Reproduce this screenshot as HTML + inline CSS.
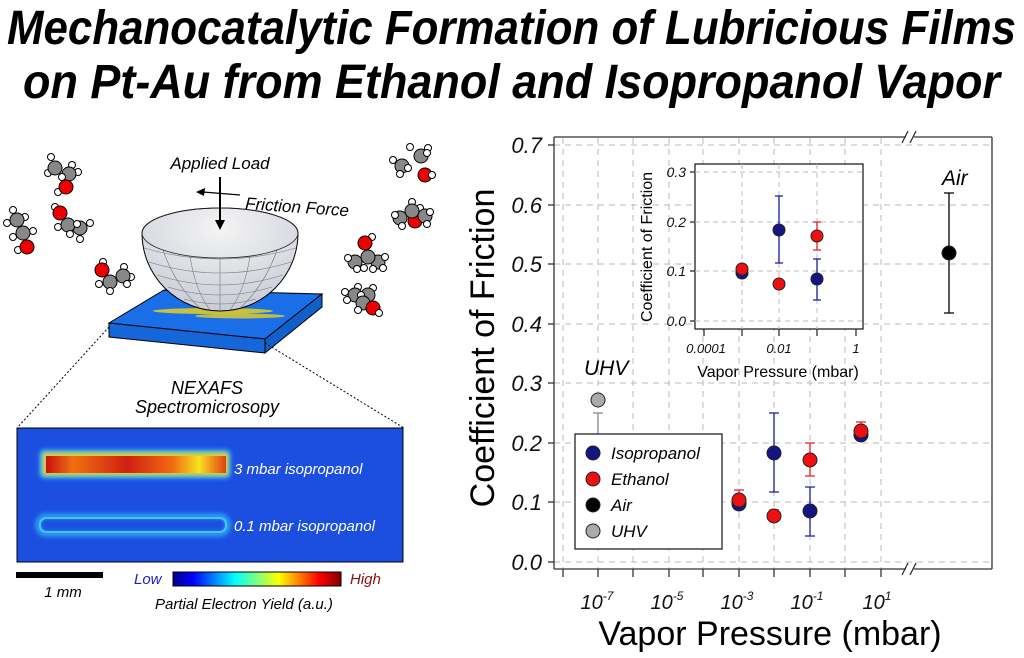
<!DOCTYPE html>
<html><head><meta charset="utf-8"><style>
html,body{margin:0;padding:0;background:#fff;}
svg{display:block;font-family:"Liberation Sans",sans-serif;}
</style></head><body>
<svg width="1024" height="658" viewBox="0 0 1024 658" xmlns="http://www.w3.org/2000/svg">
<defs>
<linearGradient id="jet" x1="0" x2="1" y1="0" y2="0">
<stop offset="0" stop-color="#00008f"/><stop offset="0.12" stop-color="#0000ff"/><stop offset="0.37" stop-color="#00ffff"/><stop offset="0.5" stop-color="#7fff7f"/><stop offset="0.63" stop-color="#ffff00"/><stop offset="0.87" stop-color="#ff0000"/><stop offset="1" stop-color="#800000"/>
</linearGradient>
<radialGradient id="bowl" cx="0.5" cy="0.2" r="0.8">
<stop offset="0" stop-color="#f4f4f4"/><stop offset="1" stop-color="#c8ccd6"/>
</radialGradient>
<linearGradient id="strip" x1="0" x2="1">
<stop offset="0" stop-color="#c81010"/><stop offset="0.15" stop-color="#f07010"/><stop offset="0.45" stop-color="#d02010"/><stop offset="0.7" stop-color="#f06a10"/><stop offset="0.85" stop-color="#f8e020"/><stop offset="1" stop-color="#e04010"/>
</linearGradient>
<filter id="blur" x="-20%" y="-50%" width="140%" height="200%"><feGaussianBlur stdDeviation="2.5"/></filter>
</defs>

<g font-weight="bold" font-style="italic" font-size="48" fill="#000">
<text x="7" y="44" textLength="1009" lengthAdjust="spacingAndGlyphs">Mechanocatalytic Formation of Lubricious Films</text>
<text x="23" y="98" textLength="977" lengthAdjust="spacingAndGlyphs">on Pt-Au from Ethanol and Isopropanol Vapor</text>
</g>

<g stroke="#000" stroke-width="1">
<circle cx="51" cy="157" r="3.5" fill="#fff"/><circle cx="48" cy="173" r="3.5" fill="#fff"/><circle cx="72" cy="165" r="3.5" fill="#fff"/><circle cx="78" cy="172" r="3.5" fill="#fff"/>
<circle cx="55" cy="168" r="7" fill="#888"/><circle cx="69" cy="174" r="7" fill="#888"/><circle cx="62" cy="177" r="3.5" fill="#fff"/>
<circle cx="58" cy="192" r="3.5" fill="#fff"/><circle cx="66" cy="187" r="7" fill="#e00"/>
<circle cx="13" cy="210" r="3.5" fill="#fff"/><circle cx="25" cy="217" r="3.5" fill="#fff"/><circle cx="7" cy="223" r="3.5" fill="#fff"/>
<circle cx="17" cy="220" r="7" fill="#888"/><circle cx="13" cy="237" r="3.5" fill="#fff"/><circle cx="33" cy="231" r="3.5" fill="#fff"/>
<circle cx="23" cy="233" r="7" fill="#888"/><circle cx="18" cy="250" r="3.5" fill="#fff"/><circle cx="27" cy="247" r="7" fill="#e00"/>
<circle cx="55" cy="207" r="3.5" fill="#fff"/><circle cx="90" cy="223" r="3.5" fill="#fff"/><circle cx="80" cy="239" r="3.5" fill="#fff"/>
<circle cx="60" cy="213" r="7" fill="#e00"/><circle cx="80" cy="228" r="7" fill="#888"/><circle cx="58" cy="227" r="3.5" fill="#fff"/>
<circle cx="68" cy="225" r="7" fill="#888"/><circle cx="77" cy="224" r="3.5" fill="#fff"/><circle cx="70" cy="234" r="3.5" fill="#fff"/>
<circle cx="103" cy="262" r="3.5" fill="#fff"/><circle cx="124" cy="267" r="3.5" fill="#fff"/><circle cx="131" cy="277" r="3.5" fill="#fff"/>
<circle cx="102" cy="270" r="7" fill="#e00"/><circle cx="123" cy="276" r="7" fill="#888"/><circle cx="110" cy="282" r="7" fill="#888"/>
<circle cx="99" cy="284" r="3.5" fill="#fff"/><circle cx="110" cy="291" r="3.5" fill="#fff"/><circle cx="127" cy="284" r="3.5" fill="#fff"/>
<circle cx="410" cy="147" r="3.5" fill="#fff"/><circle cx="393" cy="160" r="3.5" fill="#fff"/>
<circle cx="421" cy="156" r="7" fill="#888"/><circle cx="402" cy="166" r="7" fill="#888"/>
<circle cx="428" cy="148" r="3.5" fill="#fff"/><circle cx="427" cy="153" r="3.5" fill="#fff"/><circle cx="400" cy="174" r="3.5" fill="#fff"/><circle cx="408" cy="168" r="3.5" fill="#fff"/>
<circle cx="425" cy="175" r="7" fill="#e00"/><circle cx="432" cy="175" r="3.5" fill="#fff"/>
<circle cx="412" cy="202" r="3.5" fill="#fff"/><circle cx="420" cy="208" r="3.5" fill="#fff"/>
<circle cx="415" cy="221" r="7" fill="#e00"/>
<circle cx="400" cy="218" r="7" fill="#888"/><circle cx="425" cy="216" r="7" fill="#888"/><circle cx="412" cy="211" r="7" fill="#888"/>
<circle cx="395" cy="215" r="3.5" fill="#fff"/><circle cx="402" cy="226" r="3.5" fill="#fff"/><circle cx="430" cy="212" r="3.5" fill="#fff"/><circle cx="427" cy="224" r="3.5" fill="#fff"/>
<circle cx="372" cy="237" r="3.5" fill="#fff"/><circle cx="365" cy="243" r="7" fill="#e00"/>
<circle cx="355" cy="262" r="7" fill="#888"/><circle cx="378" cy="262" r="7" fill="#888"/><circle cx="368" cy="257" r="7" fill="#888"/>
<circle cx="348" cy="258" r="3.5" fill="#fff"/><circle cx="357" cy="269" r="3.5" fill="#fff"/><circle cx="364" cy="268" r="3.5" fill="#fff"/><circle cx="373" cy="269" r="3.5" fill="#fff"/><circle cx="383" cy="268" r="3.5" fill="#fff"/><circle cx="385" cy="257" r="3.5" fill="#fff"/>
<circle cx="345" cy="292" r="3.5" fill="#fff"/><circle cx="358" cy="287" r="3.5" fill="#fff"/><circle cx="373" cy="288" r="3.5" fill="#fff"/>
<circle cx="355" cy="295" r="7" fill="#888"/><circle cx="368" cy="295" r="7" fill="#888"/><circle cx="361" cy="295" r="3.5" fill="#fff"/>
<circle cx="363" cy="303" r="7" fill="#888"/><circle cx="347" cy="300" r="3.5" fill="#fff"/>
<circle cx="373" cy="308" r="7" fill="#e00"/><circle cx="358" cy="310" r="3.5" fill="#fff"/><circle cx="379" cy="313" r="3.5" fill="#fff"/>
</g>

<polygon points="109,323 164,290 322,294 265,339" fill="#1a6ee8" stroke="#000" stroke-width="1"/>
<polygon points="109,323 265,339 265,353 109,337" fill="#1566d8" stroke="#000" stroke-width="1"/>
<polygon points="265,339 322,294 322,307 265,353" fill="#1060cc" stroke="#000" stroke-width="1"/>
<ellipse cx="213" cy="311" rx="60" ry="3" fill="#e8d020" opacity="0.85"/>
<ellipse cx="240" cy="316" rx="45" ry="2.5" fill="#e8d020" opacity="0.8"/>

<path d="M142,233 A78,25 0 0 1 298,233 A78,78 0 0 1 220,311 A78,78 0 0 1 142,233 Z" fill="url(#bowl)" stroke="#000" stroke-width="1"/>
<g fill="none" stroke="#777" stroke-width="0.6">
<path d="M144,248 Q220,270 296,248"/><path d="M149,262 Q220,284 291,262"/><path d="M157,275 Q220,295 283,275"/><path d="M168,287 Q220,303 272,287"/><path d="M184,299 Q220,309 256,299"/>
<path d="M220,258 L220,311"/><path d="M190,256 Q195,290 210,310"/><path d="M250,256 Q245,290 230,310"/><path d="M163,250 Q175,285 200,308"/><path d="M277,250 Q265,285 240,308"/>
<ellipse cx="220" cy="233" rx="78" ry="25" stroke="#222" stroke-width="0.8"/>
</g>

<line x1="220" y1="177" x2="220" y2="222" stroke="#000" stroke-width="2"/>
<polygon points="215,220 225,220 220,230" fill="#000"/>
<line x1="240" y1="195" x2="203" y2="192" stroke="#000" stroke-width="1.2"/>
<polygon points="196,192 205,188 204,196" fill="#000"/>
<text x="220" y="169" font-size="17" font-style="italic" text-anchor="middle">Applied Load</text>
<text x="245" y="209" font-size="17" font-style="italic" transform="rotate(4 245 208)">Friction Force</text>

<line x1="109" y1="327" x2="17" y2="428" stroke="#000" stroke-dasharray="2,2" stroke-width="1"/>
<line x1="265" y1="343" x2="404" y2="428" stroke="#000" stroke-dasharray="2,2" stroke-width="1"/>

<text x="207" y="394" font-size="18" font-style="italic" text-anchor="middle">NEXAFS</text>
<text x="207" y="413" font-size="18" font-style="italic" text-anchor="middle">Spectromicrosopy</text>

<rect x="17" y="428" width="386" height="134" fill="#1c4fe0" stroke="#000" stroke-width="1"/>
<rect x="40" y="450" width="190" height="28" rx="4" fill="#40d0ff" filter="url(#blur)" opacity="0.9"/>
<rect x="43" y="453" width="185" height="22" fill="#f0d020" filter="url(#blur)"/>
<rect x="46" y="456" width="180" height="17" fill="url(#strip)"/>
<rect x="38" y="516" width="190" height="18" rx="8" fill="none" stroke="#30b8ff" stroke-width="4" filter="url(#blur)"/>
<rect x="40" y="518" width="186" height="14" rx="6" fill="none" stroke="#40c8ff" stroke-width="2"/>
<text x="234" y="474" font-size="15" font-style="italic" fill="#fff">3 mbar isopropanol</text>
<text x="234" y="531" font-size="15" font-style="italic" fill="#fff">0.1 mbar isopropanol</text>

<rect x="16" y="572" width="87" height="6" fill="#000"/>
<text x="63" y="597" font-size="15" font-style="italic" text-anchor="middle">1 mm</text>
<text x="134" y="584" font-size="15" font-style="italic" fill="#2020c0">Low</text>
<rect x="173" y="572" width="168" height="14" fill="url(#jet)" stroke="#000" stroke-width="1"/>
<text x="350" y="584" font-size="15" font-style="italic" fill="#8a1010">High</text>
<text x="155" y="609" font-size="15" font-style="italic">Partial Electron Yield (a.u.)</text>

<g stroke="#bbb" stroke-width="1" stroke-dasharray="6,5">
<line x1="554" y1="502" x2="992" y2="502"/><line x1="554" y1="443" x2="992" y2="443"/><line x1="554" y1="383" x2="992" y2="383"/><line x1="554" y1="324" x2="992" y2="324"/><line x1="554" y1="264" x2="992" y2="264"/><line x1="554" y1="205" x2="992" y2="205"/><line x1="554" y1="145" x2="992" y2="145"/><line x1="554" y1="562" x2="992" y2="562"/>
<line x1="563" y1="138" x2="563" y2="569"/><line x1="598" y1="138" x2="598" y2="569"/><line x1="633" y1="138" x2="633" y2="569"/><line x1="669" y1="138" x2="669" y2="569"/><line x1="703" y1="138" x2="703" y2="569"/><line x1="739" y1="138" x2="739" y2="569"/><line x1="774" y1="138" x2="774" y2="569"/><line x1="810" y1="138" x2="810" y2="569"/><line x1="845" y1="138" x2="845" y2="569"/><line x1="881" y1="138" x2="881" y2="569"/>
</g>
<g stroke="#333" stroke-width="1.3" fill="none">
<line x1="554" y1="137" x2="554" y2="569"/>
<line x1="992" y1="137" x2="992" y2="569"/>
<line x1="554" y1="137" x2="906" y2="137"/><line x1="914" y1="137" x2="992" y2="137"/>
<line x1="554" y1="569" x2="906" y2="569"/><line x1="914" y1="569" x2="992" y2="569"/>
<line x1="902" y1="143" x2="908" y2="131"/><line x1="910" y1="143" x2="916" y2="131"/>
<line x1="902" y1="575" x2="908" y2="563"/><line x1="910" y1="575" x2="916" y2="563"/>
<line x1="548" y1="562" x2="554" y2="562"/><line x1="548" y1="502" x2="554" y2="502"/><line x1="548" y1="443" x2="554" y2="443"/><line x1="548" y1="383" x2="554" y2="383"/><line x1="548" y1="324" x2="554" y2="324"/><line x1="548" y1="264" x2="554" y2="264"/><line x1="548" y1="205" x2="554" y2="205"/><line x1="548" y1="145" x2="554" y2="145"/>
<line x1="563" y1="569" x2="563" y2="577"/><line x1="598" y1="569" x2="598" y2="577"/><line x1="633" y1="569" x2="633" y2="577"/><line x1="669" y1="569" x2="669" y2="577"/><line x1="703" y1="569" x2="703" y2="577"/><line x1="739" y1="569" x2="739" y2="577"/><line x1="774" y1="569" x2="774" y2="577"/><line x1="810" y1="569" x2="810" y2="577"/><line x1="845" y1="569" x2="845" y2="577"/><line x1="881" y1="569" x2="881" y2="577"/>
</g>
<g font-size="22" font-style="italic" text-anchor="end" fill="#111">
<text x="542" y="570">0.0</text><text x="542" y="510">0.1</text><text x="542" y="451">0.2</text><text x="542" y="391">0.3</text><text x="542" y="332">0.4</text><text x="542" y="272">0.5</text><text x="542" y="213">0.6</text><text x="542" y="153">0.7</text>
</g>
<g font-size="20" font-style="italic" text-anchor="middle" fill="#111">
<text x="597" y="609">10<tspan font-size="12" dy="-9">-7</tspan></text>
<text x="667" y="609">10<tspan font-size="12" dy="-9">-5</tspan></text>
<text x="737" y="609">10<tspan font-size="12" dy="-9">-3</tspan></text>
<text x="807" y="609">10<tspan font-size="12" dy="-9">-1</tspan></text>
<text x="877" y="609">10<tspan font-size="12" dy="-9">1</tspan></text>
</g>
<text x="770" y="645" font-size="34" text-anchor="middle">Vapor Pressure (mbar)</text>
<text x="0" y="0" font-size="34" text-anchor="middle" transform="translate(494,348) rotate(-90)">Coefficient of Friction</text>
<text x="584" y="375" font-size="21" font-style="italic">UHV</text>
<text x="942" y="185" font-size="21" font-style="italic">Air</text>

<g stroke-width="1.3" fill="none">
<path d="M598,413V453M593,413H603M593,453H603" stroke="#888"/>
<path d="M949,193V313M944,193H954M944,313H954" stroke="#000"/>
<path d="M739,499V508M734,499H744M734,508H744" stroke="#1a1aa0"/>
<path d="M739,490V508M734,490H744" stroke="#e02020"/>
<path d="M774,413V492M769,413H779M769,492H779" stroke="#1a1aa0"/>
<path d="M774,510V521M769,510H779M769,521H779" stroke="#e02020"/>
<path d="M810,443V476M805,443H815M805,476H815" stroke="#e02020"/>
<path d="M810,487V536M805,487H815M805,536H815" stroke="#1a1aa0"/>
<path d="M861,436V440M856,440H866" stroke="#1a1aa0"/>
<path d="M861,422V436M856,422H866" stroke="#e02020"/>
</g>
<g stroke="#222" stroke-width="1">
<circle cx="598" cy="400" r="7" fill="#aaa"/>
<circle cx="949" cy="253" r="7" fill="#000"/>
<circle cx="739" cy="504" r="7" fill="#141485"/>
<circle cx="739" cy="500" r="7" fill="#ee1010"/>
<circle cx="774" cy="453" r="7" fill="#141485"/>
<circle cx="774" cy="516" r="7" fill="#ee1010"/>
<circle cx="810" cy="460" r="7" fill="#ee1010"/>
<circle cx="810" cy="511" r="7" fill="#141485"/>
<circle cx="861" cy="435" r="7" fill="#141485"/>
<circle cx="861" cy="431" r="7" fill="#ee1010"/>
</g>

<rect x="575" y="434" width="147" height="115" fill="#fff" stroke="#222" stroke-width="1.3"/>
<g stroke="#222" stroke-width="1">
<circle cx="593" cy="453" r="7" fill="#141485"/><circle cx="593" cy="479" r="7" fill="#ee1010"/><circle cx="593" cy="505" r="7" fill="#000"/><circle cx="593" cy="531" r="7" fill="#aaa"/>
</g>
<g font-size="17" font-style="italic">
<text x="611" y="459">Isopropanol</text><text x="611" y="485">Ethanol</text><text x="611" y="511">Air</text><text x="611" y="537">UHV</text>
</g>

<rect x="695" y="164" width="168" height="165" fill="#fff" stroke="#222" stroke-width="1.3"/>
<g stroke="#bbb" stroke-width="1" stroke-dasharray="5,4">
<line x1="695" y1="172" x2="863" y2="172"/><line x1="695" y1="222" x2="863" y2="222"/><line x1="695" y1="271" x2="863" y2="271"/><line x1="695" y1="321" x2="863" y2="321"/>
<line x1="742" y1="164" x2="742" y2="329"/><line x1="779" y1="164" x2="779" y2="329"/><line x1="817" y1="164" x2="817" y2="329"/>
</g>
<g stroke="#222" stroke-width="1.2">
<line x1="690" y1="172" x2="695" y2="172"/><line x1="690" y1="222" x2="695" y2="222"/><line x1="690" y1="271" x2="695" y2="271"/><line x1="690" y1="321" x2="695" y2="321"/>
<line x1="704" y1="329" x2="704" y2="336"/><line x1="742" y1="329" x2="742" y2="336"/><line x1="779" y1="329" x2="779" y2="336"/><line x1="817" y1="329" x2="817" y2="336"/><line x1="856" y1="329" x2="856" y2="336"/>
</g>
<g font-size="14" font-style="italic" text-anchor="end" fill="#111">
<text x="686" y="177">0.3</text><text x="686" y="227">0.2</text><text x="686" y="276">0.1</text><text x="686" y="326">0.0</text>
</g>
<g font-size="13" font-style="italic" text-anchor="middle" fill="#111">
<text x="706" y="353">0.0001</text><text x="779" y="353">0.01</text><text x="856" y="353">1</text>
</g>
<text x="778" y="377" font-size="16" text-anchor="middle">Vapor Pressure (mbar)</text>
<text x="0" y="0" font-size="16" text-anchor="middle" transform="translate(652,247) rotate(-90)">Coefficient of Friction</text>
<g stroke-width="1.3" fill="none">
<path d="M779,196V263M775,196H783M775,263H783" stroke="#1a1aa0"/>
<path d="M817,222V250M813,222H821M813,250H821" stroke="#e02020"/>
<path d="M817,259V300M813,259H821M813,300H821" stroke="#1a1aa0"/>
<path d="M742,265V277M738,265H746" stroke="#e02020"/>
</g>
<g stroke="#222" stroke-width="1">
<circle cx="742" cy="273" r="6" fill="#141485"/>
<circle cx="742" cy="269" r="6" fill="#ee1010"/>
<circle cx="779" cy="230" r="6" fill="#141485"/>
<circle cx="779" cy="284" r="6" fill="#ee1010"/>
<circle cx="817" cy="236" r="6" fill="#ee1010"/>
<circle cx="817" cy="279" r="6" fill="#141485"/>
</g>
</svg>
</body></html>
